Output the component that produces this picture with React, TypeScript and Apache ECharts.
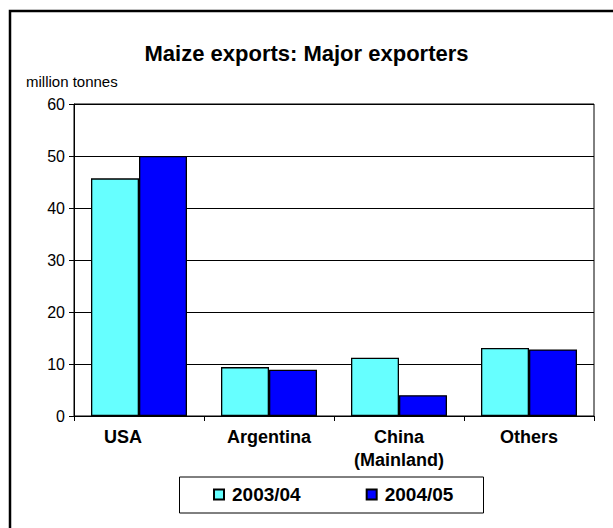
import React, { useEffect, useRef } from "react";
import * as echarts from "echarts";

const categories = ["USA", "Argentina", "China\n(Mainland)", "Others"];
const series0304 = [45.7, 9.4, 11.2, 13.1];
const series0405 = [50.0, 8.9, 4.0, 12.8];
const seriesNames = ["2003/04", "2004/05"];
const yTicks = { min: 0, max: 60, interval: 10 };

const FONT = "'Liberation Sans', Arial, sans-serif";

export default function App() {
  const ref = useRef<HTMLDivElement>(null);
  useEffect(() => {
    if (!ref.current) return;
    const chart = echarts.init(ref.current, null, { renderer: "svg" });
    chart.setOption({
      animation: false,
      backgroundColor: "#fff",
      textStyle: { fontFamily: FONT },
      title: {
        text: "Maize exports: Major exporters",
        left: "center",
        top: 37,
        textStyle: { fontFamily: FONT, fontSize: 22, fontWeight: "bold", color: "#000" },
      },
      graphic: [
        {
          type: "rect",
          shape: { x: 10, y: 11, width: 700, height: 600 },
          style: { fill: "none", stroke: "#000", lineWidth: 2.5 },
          silent: true,
        },
        {
          type: "text",
          left: 26,
          top: 74,
          style: { text: "million tonnes", font: `15px ${FONT}`, fill: "#000" },
        },
        {
          type: "rect",
          shape: { x: 179.5, y: 477, width: 304, height: 36 },
          style: { fill: "none", stroke: "#000", lineWidth: 1 },
          silent: true,
        },
      ],
      legend: {
        data: seriesNames,
        left: 213,
        top: 485,
        padding: 0,
        itemWidth: 10,
        itemHeight: 10,
        itemGap: 65,
        icon: "rect",
        textStyle: { fontFamily: FONT, fontSize: 19, fontWeight: "bold", color: "#000", padding: [0, 0, 0, 3] },
      },
      grid: {
        left: 74,
        right: 19,
        top: 104,
        bottom: 112,
        show: true,
        borderColor: "#000",
        borderWidth: 1,
        containLabel: false,
      },
      xAxis: {
        type: "category",
        data: categories,
        axisLine: { lineStyle: { color: "#000", width: 1 } },
        axisTick: { show: true, length: 5, interval: 0, lineStyle: { color: "#000" } },
        axisLabel: {
          interval: 0,
          margin: 9,
          fontFamily: FONT,
          fontSize: 18,
          fontWeight: "bold",
          color: "#000",
          lineHeight: 23,
          formatter: (v: string) => (v === "USA" ? "{u|USA}" : v),
          rich: {
            u: {
              fontFamily: FONT,
              fontSize: 18,
              fontWeight: "bold",
              color: "#000",
              lineHeight: 23,
              padding: [0, 32, 0, 0],
            },
          },
        },
      },
      yAxis: {
        type: "value",
        min: yTicks.min,
        max: yTicks.max,
        interval: yTicks.interval,
        axisLine: { show: true, lineStyle: { color: "#000", width: 1 } },
        axisTick: { show: true, length: 5, lineStyle: { color: "#000" } },
        splitLine: { show: true, lineStyle: { color: "#000", width: 1 } },
        axisLabel: { margin: 9, fontFamily: FONT, fontSize: 16, color: "#000" },
      },
      series: [
        {
          name: seriesNames[0],
          type: "bar",
          data: series0304,
          barWidth: 48,
          barGap: "0%",
          itemStyle: { color: "#66FFFF", borderColor: "#000", borderWidth: 1.3 },
        },
        {
          name: seriesNames[1],
          type: "bar",
          data: series0405,
          barWidth: 48,
          barGap: "0%",
          itemStyle: { color: "#0000FF", borderColor: "#000", borderWidth: 1.3 },
        },
      ],
    });
    return () => chart.dispose();
  }, []);
  return (
    <div
      ref={ref}
      style={{ position: "fixed", left: 0, top: 0, width: 613, height: 528 }}
    />
  );
}
